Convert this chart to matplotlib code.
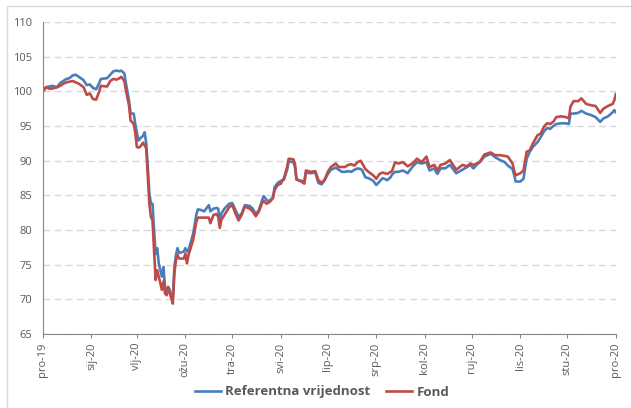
import matplotlib
matplotlib.use("Agg")
import matplotlib.pyplot as plt
import matplotlib.dates as mdates
import pandas as pd
from matplotlib.patches import Rectangle

# dani od 31.12.2019.
days = [0, 2, 4, 6, 9, 11, 13, 15, 17, 19, 21, 23, 26, 28, 30, 32, 34, 36, 37, 41,
        43, 45, 47, 49, 50, 52, 53, 55, 56, 58, 59, 60, 61, 62, 64, 65, 66, 67, 68, 69,
        70, 71, 72, 73, 74, 76, 77, 78, 79, 80, 81, 82, 83, 84, 85, 86, 87, 90, 91, 92,
        93, 96, 98, 99, 101, 103, 106, 107, 109, 111, 112, 113, 114, 116, 119, 121, 123, 125, 127, 129,
        132, 134, 136, 138, 140, 141, 143, 145, 147, 148, 150, 152, 154, 156, 157, 160, 161, 162, 165, 167,
        168, 171, 174, 176, 178, 180, 182, 184, 187, 189, 191, 193, 195, 197, 199, 201, 203, 204, 206, 208,
        211, 213, 215, 217, 220, 222, 223, 225, 227, 230, 233, 236, 239, 242, 245, 247, 250, 252, 254, 257,
        260, 264, 268, 271, 273, 275, 277, 279, 282, 286, 289, 292, 295, 297, 300, 301, 302, 305, 307, 309,
        311, 313, 316, 318, 320, 322, 324, 326, 328, 331, 334, 336, 337, 339, 342, 344, 347, 350, 353, 356,
        358, 361, 364, 365, 366]

referentna = [100.0, 100.6, 100.7, 100.8, 100.6, 101.2, 101.5, 101.8, 101.9, 102.3, 102.4, 102.1, 101.6, 100.9, 101.0, 100.5, 100.3, 101.2, 101.8, 101.9,
              102.4, 102.9, 103.0, 102.9, 103.0, 102.6, 101.2, 98.7, 96.8, 96.8, 95.3, 94.1, 92.9, 93.2, 93.6, 94.1, 92.5, 89.1, 85.3, 83.8,
              83.8, 80.0, 76.6, 77.4, 75.2, 73.3, 74.7, 71.8, 71.4, 71.8, 71.4, 70.4, 70.2, 74.7, 76.4, 77.4, 76.7, 76.9, 77.4, 76.9,
              77.1, 79.5, 82.2, 83.0, 82.9, 82.7, 83.6, 82.7, 83.1, 83.2, 83.1, 81.2, 82.4, 83.1, 83.8, 83.9, 82.9, 81.9, 82.4, 83.6,
              83.5, 83.1, 82.3, 82.9, 84.3, 84.9, 84.3, 84.2, 84.8, 86.2, 86.8, 87.1, 87.3, 88.7, 89.9, 89.8, 89.1, 87.3, 87.1, 87.0,
              88.3, 88.2, 88.3, 86.8, 86.6, 87.2, 88.1, 88.7, 89.0, 88.7, 88.4, 88.4, 88.5, 88.4, 88.7, 88.9, 88.8, 88.6, 87.6, 87.5,
              87.1, 86.5, 87.0, 87.5, 87.2, 87.6, 88.0, 88.4, 88.4, 88.6, 88.2, 89.1, 89.8, 89.6, 89.8, 88.6, 88.9, 88.1, 88.9, 88.9,
              89.4, 88.2, 88.7, 89.1, 89.4, 88.9, 89.4, 89.8, 90.6, 91.0, 90.5, 90.1, 89.8, 89.3, 88.8, 88.0, 87.0, 87.0, 87.4, 90.3,
              91.3, 92.0, 92.7, 93.4, 94.2, 94.7, 94.6, 95.0, 95.3, 95.4, 95.4, 95.3, 96.8, 96.8, 96.9, 97.2, 96.8, 96.6, 96.3, 95.6,
              96.1, 96.4, 97.0, 97.3, 97.0]

fond = [100.0, 100.6, 100.4, 100.4, 100.6, 100.8, 101.1, 101.3, 101.4, 101.5, 101.3, 101.1, 100.6, 99.5, 99.7, 98.9, 98.8, 100.0, 100.8, 100.7,
        101.5, 101.8, 101.7, 101.9, 102.1, 101.5, 100.2, 98.0, 95.8, 95.3, 94.1, 92.0, 91.9, 92.0, 92.6, 92.2, 91.8, 87.7, 83.8, 81.9,
        81.4, 77.1, 72.8, 74.2, 73.3, 71.4, 72.6, 70.9, 70.6, 71.8, 70.9, 70.2, 69.4, 73.8, 75.7, 76.4, 75.9, 75.9, 76.6, 75.2,
        76.4, 78.6, 81.2, 81.8, 81.8, 81.8, 81.8, 81.0, 82.2, 82.3, 81.9, 80.3, 81.5, 82.2, 83.3, 83.6, 82.4, 81.4, 82.2, 83.4,
        83.1, 82.7, 82.0, 82.7, 83.9, 84.2, 83.8, 84.1, 84.6, 85.8, 86.5, 86.7, 87.5, 89.1, 90.3, 90.2, 89.6, 87.3, 87.0, 86.7,
        88.6, 88.4, 88.5, 87.2, 86.8, 87.3, 88.4, 89.1, 89.6, 89.1, 89.1, 89.1, 89.4, 89.5, 89.3, 89.8, 90.0, 89.6, 88.8, 88.4,
        87.9, 87.4, 88.1, 88.3, 88.1, 88.4, 88.5, 89.8, 89.6, 89.8, 89.2, 89.6, 90.3, 89.8, 90.6, 89.1, 89.4, 88.6, 89.4, 89.6,
        90.1, 88.7, 89.4, 89.2, 89.6, 89.4, 89.6, 89.8, 90.9, 91.2, 90.8, 90.8, 90.7, 90.6, 89.6, 88.6, 87.9, 88.2, 88.6, 91.3,
        91.5, 92.5, 93.7, 93.9, 94.9, 95.4, 95.3, 95.6, 96.3, 96.4, 96.3, 96.1, 97.8, 98.6, 98.6, 99.0, 98.2, 98.0, 97.9, 96.9,
        97.5, 97.9, 98.2, 98.7, 99.6]

mjeseci = ['pro-19', 'sij-20', 'vlj-20', 'ožu-20', 'tra-20', 'svi-20', 'lip-20',
           'srp-20', 'kol-20', 'ruj-20', 'lis-20', 'stu-20', 'pro-20']

plt.rcParams['font.family'] = ['Open Sans', 'DejaVu Sans']

datumi = pd.Timestamp('2019-12-31') + pd.to_timedelta(days, unit='D')
tickovi = pd.date_range('2019-12-31', '2020-12-31', freq='ME')

fig = plt.figure(figsize=(6.31, 4.08), dpi=100)
ax = fig.add_axes([0.068, 0.181, 0.908, 0.765])

# okvir grafikona
fig.patches.append(Rectangle((7 / 631, -0.1), 1.2, 0.1 + 402 / 408, transform=fig.transFigure,
                             fill=False, edgecolor='#d9d9d9', linewidth=1))

ax.plot(datumi, referentna, color='#4a7ebb', linewidth=1.9, label='Referentna vrijednost')
ax.plot(datumi, fond, color='#be4b48', linewidth=1.9, label='Fond')

ax.set_ylim(65, 110)
ax.set_yticks(range(65, 111, 5))
ax.set_xlim(tickovi[0], tickovi[-1])
ax.set_xticks(tickovi)
ax.set_xticklabels(mjeseci, rotation=90)

ax.grid(axis='y', color='#d9d9d9', linestyle=(0, (5, 3)), linewidth=1)
ax.set_axisbelow(True)
for s in ['top', 'right']:
    ax.spines[s].set_visible(False)
for s in ['left', 'bottom']:
    ax.spines[s].set_color('#868686')
ax.tick_params(axis='y', length=0, pad=8, labelsize=8, labelcolor='#595959')
ax.tick_params(axis='x', length=3, pad=3, labelsize=8, labelcolor='#595959', color='#868686')

fig.legend(loc='center', bbox_to_anchor=(322 / 631, 1 - 392 / 408), ncol=2, frameon=False,
           prop={'weight': 'bold', 'size': 9.5}, labelcolor='#595959', handlelength=2.0,
           handletextpad=0.3, columnspacing=1.2)

fig.savefig('out.png', dpi=100)
